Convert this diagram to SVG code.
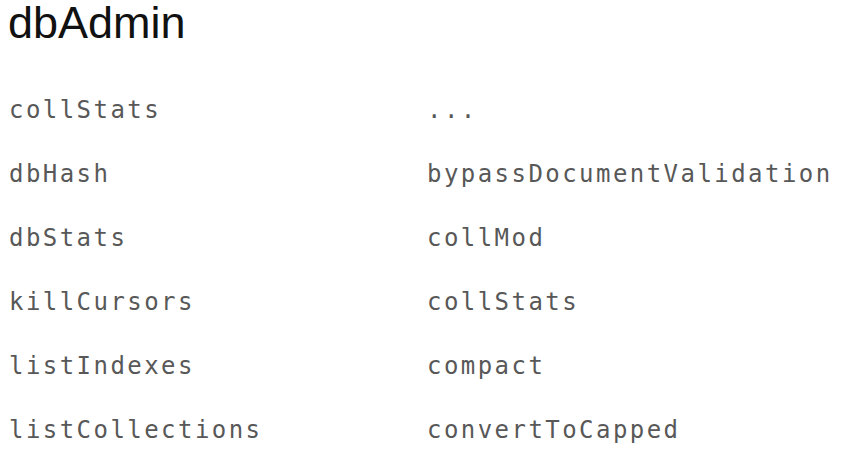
<svg xmlns="http://www.w3.org/2000/svg" width="851" height="454" viewBox="0 0 851 454">
<style>
.title{font-family:"Liberation Sans",Arial,sans-serif;font-size:45px;fill:#111}
.m{font-family:"DejaVu Sans Mono","Liberation Mono",monospace;font-size:24px;fill:#585858;letter-spacing:2.45px}
</style>
<rect width="851" height="454" fill="#ffffff"/>
<g id="title"><text class="title" x="8" y="38">dbAdmin</text></g>
<g id="left">
<text class="m" x="9" y="118">collStats</text>
<text class="m" x="9" y="182">dbHash</text>
<text class="m" x="9" y="246">dbStats</text>
<text class="m" x="9" y="310">killCursors</text>
<text class="m" x="9" y="374">listIndexes</text>
<text class="m" x="9" y="438">listCollections</text>
</g>
<g id="right">
<text class="m" x="427" y="118">...</text>
<text class="m" x="427" y="182">bypassDocumentValidation</text>
<text class="m" x="427" y="246">collMod</text>
<text class="m" x="427" y="310">collStats</text>
<text class="m" x="427" y="374">compact</text>
<text class="m" x="427" y="438">convertToCapped</text>
</g>
</svg>
